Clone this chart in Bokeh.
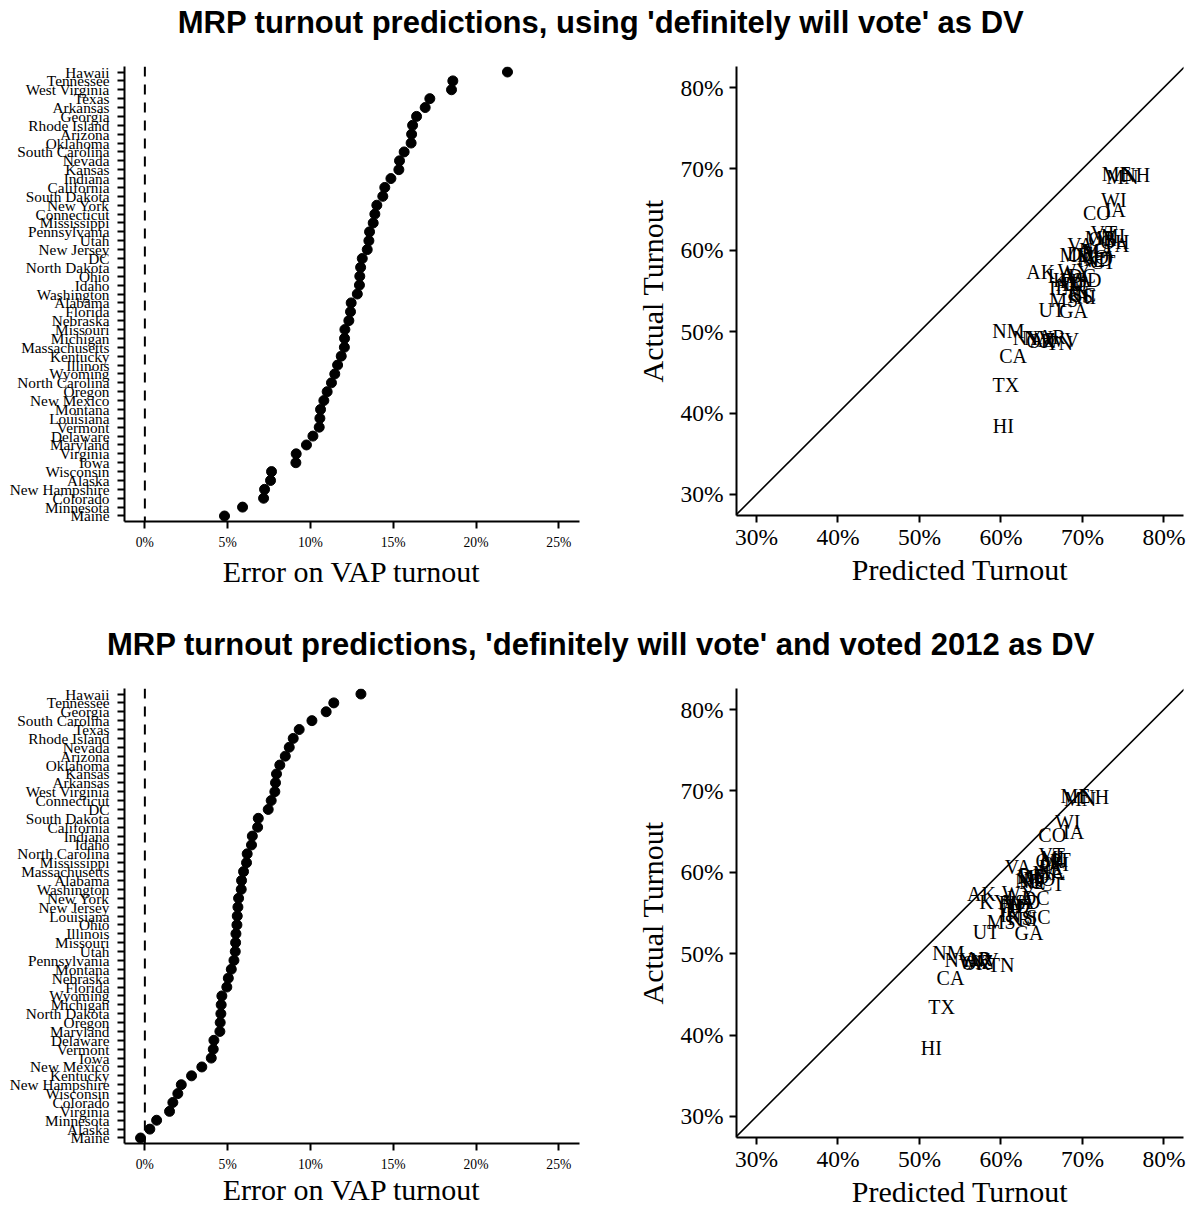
from bokeh.plotting import figure
from bokeh.models import (Range1d, FactorRange, FixedTicker, PrintfTickFormatter,
                          Span, Slope, Label)
from bokeh.layouts import column, row
from bokeh.embed import file_html
from bokeh.resources import INLINE
from bokeh.core.properties import value

SERIF = "Liberation Serif"
SANS = "Liberation Sans"

# ---------------- data ----------------
title_top = "MRP turnout predictions, using 'definitely will vote' as DV"
title_bottom = "MRP turnout predictions, 'definitely will vote' and voted 2012 as DV"

top_states = ["Hawaii", "Tennessee", "West Virginia", "Texas", "Arkansas", "Georgia",
              "Rhode Island", "Arizona", "Oklahoma", "South Carolina", "Nevada", "Kansas",
              "Indiana", "California", "South Dakota", "New York", "Connecticut",
              "Mississippi", "Pennsylvania", "Utah", "New Jersey", "DC", "North Dakota",
              "Ohio", "Idaho", "Washington", "Alabama", "Florida", "Nebraska", "Missouri",
              "Michigan", "Massachusetts", "Kentucky", "Illinois", "Wyoming",
              "North Carolina", "Oregon", "New Mexico", "Montana", "Louisiana", "Vermont",
              "Delaware", "Maryland", "Virginia", "Iowa", "Wisconsin", "Alaska",
              "New Hampshire", "Colorado", "Minnesota", "Maine"]
top_errors = [21.90, 18.60, 18.52, 17.21, 16.93, 16.41, 16.17, 16.11, 16.08, 15.66, 15.38,
              15.34, 14.86, 14.49, 14.37, 14.01, 13.89, 13.79, 13.57, 13.53, 13.43, 13.13,
              13.03, 12.98, 12.96, 12.83, 12.46, 12.42, 12.32, 12.08, 12.06, 12.05, 11.86,
              11.64, 11.47, 11.27, 11.01, 10.81, 10.61, 10.57, 10.53, 10.15, 9.76, 9.14,
              9.12, 7.65, 7.59, 7.23, 7.17, 5.90, 4.81]

bottom_states = ["Hawaii", "Tennessee", "Georgia", "South Carolina", "Texas", "Rhode Island",
                 "Nevada", "Arizona", "Oklahoma", "Kansas", "Arkansas", "West Virginia",
                 "Connecticut", "DC", "South Dakota", "California", "Indiana", "Idaho",
                 "North Carolina", "Mississippi", "Massachusetts", "Alabama", "Washington",
                 "New York", "New Jersey", "Louisiana", "Ohio", "Illinois", "Missouri",
                 "Utah", "Pennsylvania", "Montana", "Nebraska", "Florida", "Wyoming",
                 "Michigan", "North Dakota", "Oregon", "Maryland", "Delaware", "Vermont",
                 "Iowa", "New Mexico", "Kentucky", "New Hampshire", "Wisconsin", "Colorado",
                 "Virginia", "Minnesota", "Alaska", "Maine"]
bottom_errors = [13.05, 11.41, 10.95, 10.09, 9.32, 8.96, 8.72, 8.48, 8.15, 7.95, 7.89, 7.85,
                 7.63, 7.45, 6.85, 6.81, 6.49, 6.44, 6.18, 6.14, 5.96, 5.84, 5.82, 5.66,
                 5.62, 5.58, 5.56, 5.50, 5.48, 5.46, 5.38, 5.22, 5.04, 4.95, 4.65, 4.61,
                 4.59, 4.55, 4.53, 4.17, 4.13, 4.01, 3.44, 2.82, 2.20, 1.99, 1.69, 1.49,
                 0.71, 0.30, -0.26]

abbrs = ["AL", "AK", "AZ", "AR", "CA", "CO", "CT", "DE", "DC", "FL", "GA", "HI", "ID",
         "IL", "IN", "IA", "KS", "KY", "LA", "ME", "MD", "MA", "MI", "MN", "MS", "MO",
         "MT", "NE", "NV", "NH", "NJ", "NM", "NY", "NC", "ND", "OH", "OK", "OR", "PA",
         "RI", "SC", "SD", "TN", "TX", "UT", "VT", "VA", "WA", "WV", "WI", "WY"]
actual_turnout = [55.9, 57.3, 49.0, 49.3, 47.0, 64.6, 58.6, 59.6, 56.8, 56.2, 52.5, 38.4,
                  55.8, 55.4, 54.7, 64.9, 54.4, 56.3, 56.8, 69.4, 59.4, 59.9, 61.7, 69.0,
                  53.9, 59.2, 61.5, 58.8, 49.2, 69.3, 55.8, 50.1, 49.2, 60.0, 58.9, 61.0,
                  48.8, 61.4, 60.7, 54.3, 54.5, 56.4, 48.6, 43.4, 52.7, 62.1, 60.6, 56.4,
                  49.0, 66.2, 57.5]
predicted_top = [68.36, 64.89, 65.11, 66.23, 61.49, 71.77, 72.49, 69.75, 69.93, 68.62,
                 68.91, 60.30, 68.76, 67.04, 69.56, 74.02, 69.74, 68.16, 67.37, 74.21,
                 69.16, 71.95, 73.76, 74.90, 67.69, 71.28, 72.11, 71.12, 64.58, 76.53,
                 69.23, 60.91, 63.21, 71.27, 71.93, 73.98, 64.88, 72.41, 74.27, 70.47,
                 70.16, 70.77, 67.20, 60.61, 66.23, 72.63, 69.74, 69.23, 67.52, 73.85,
                 68.97]
predicted_bottom = [61.74, 57.60, 57.48, 57.19, 53.81, 66.29, 66.23, 63.77, 64.25, 61.15,
                    63.45, 51.45, 62.24, 60.90, 61.19, 68.91, 62.35, 59.12, 62.38, 69.14,
                    63.93, 65.86, 66.31, 69.71, 60.04, 64.68, 66.72, 63.84, 57.92, 71.50,
                    61.42, 53.54, 54.86, 66.18, 63.49, 66.56, 56.95, 65.95, 66.08, 63.26,
                    64.59, 63.25, 60.01, 52.72, 58.16, 66.23, 62.09, 62.22, 56.85, 68.19,
                    62.15]

error_ticks = [0, 5, 10, 15, 20, 25]
turnout_ticks = [30, 40, 50, 60, 70, 80]


# ---------------- helpers ----------------
def style_axis(ax, label_size, width):
    ax.axis_line_width = width
    ax.axis_line_color = "black"
    ax.major_tick_line_width = width
    ax.major_tick_line_color = "black"
    ax.major_tick_out = 7
    ax.major_tick_in = 0
    ax.minor_tick_line_color = None
    ax.major_label_text_font = SERIF
    ax.major_label_text_font_size = label_size
    ax.major_label_text_color = "black"
    ax.axis_label_text_font = SERIF
    ax.axis_label_text_font_style = "normal"
    ax.axis_label_text_font_size = "30px"
    ax.axis_label_text_color = "black"


def title_fig(text):
    p = figure(width=1191, height=44, x_range=Range1d(0, 1), y_range=Range1d(0, 1),
               toolbar_location=None, output_backend="svg", min_border=0,
               x_axis_location=None, y_axis_location=None)
    p.grid.visible = False
    p.outline_line_color = None
    p.add_layout(Label(x=0.5042, y=0.5, text=text, text_align="center",
                       text_baseline="middle", text_font=SANS, text_font_style="bold",
                       text_font_size="31px", text_color="black"))
    return p


def dot_fig(states, errors, bottom, label_standoff):
    p = figure(frame_width=455, frame_height=455,
               x_range=Range1d(-1.23, 26.25),
               y_range=FactorRange(factors=list(reversed(states)), range_padding=0.0047),
               toolbar_location=None, output_backend="svg",
               min_border_left=124, min_border_right=51, min_border_top=22,
               min_border_bottom=bottom)
    p.grid.visible = False
    p.outline_line_color = None
    p.add_layout(Span(location=0, dimension="height", line_dash="10 8",
                      line_width=2, line_color="black"))
    p.scatter(x=errors, y=states, size=10, color="black")
    p.xaxis.ticker = FixedTicker(ticks=error_ticks)
    p.xaxis.formatter = PrintfTickFormatter(format="%d%%")
    p.xaxis.axis_label = "Error on VAP turnout"
    style_axis(p.xaxis[0], "13.6px", 2)
    style_axis(p.yaxis[0], "15.3px", 2)
    p.xaxis.major_label_standoff = 6
    p.xaxis.axis_label_standoff = label_standoff
    p.yaxis.major_label_standoff = 8
    return p


def scatter_fig(pred, bottom):
    p = figure(frame_width=447, frame_height=449,
               x_range=Range1d(27.55, 82.4), y_range=Range1d(27.42, 82.58),
               toolbar_location=None, output_backend="svg",
               min_border_left=106, min_border_right=8, min_border_top=22,
               min_border_bottom=bottom)
    p.grid.visible = False
    p.outline_line_color = None
    p.add_layout(Slope(gradient=1, y_intercept=0, line_color="black", line_width=1.6))
    p.text(x=pred, y=actual_turnout, text=abbrs, text_align="center",
           text_baseline="middle", text_font=value(SERIF), text_font_size="20px",
           text_color="black")
    for ax in (p.xaxis[0], p.yaxis[0]):
        ax.ticker = FixedTicker(ticks=turnout_ticks)
        ax.formatter = PrintfTickFormatter(format="%d%%")
        style_axis(ax, "23.5px", 2)
    p.xaxis.axis_label = "Predicted Turnout"
    p.yaxis.axis_label = "Actual Turnout"
    p.xaxis.major_label_standoff = 1
    p.xaxis.axis_label_standoff = 0
    p.yaxis.major_label_standoff = 6
    p.yaxis.axis_label_standoff = 8
    return p


t1 = title_fig(title_top)
l1 = dot_fig(top_states, top_errors, 101, 2)
r1 = scatter_fig(predicted_top, 107)
t2 = title_fig(title_bottom)
l2 = dot_fig(bottom_states, bottom_errors, 64, -2)
r2 = scatter_fig(predicted_bottom, 70)

layout = column(t1, row(l1, r1), t2, row(l2, r2))

with open("out.html", "w") as f:
    f.write(file_html(layout, INLINE))
